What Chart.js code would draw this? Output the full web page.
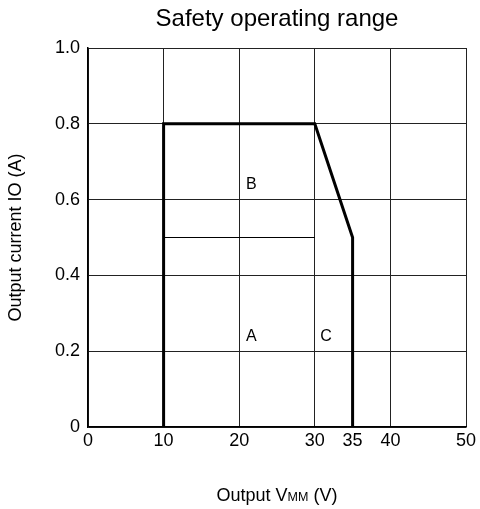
<!DOCTYPE html>
<html lang="en">
<head>
  <meta charset="UTF-8">
  <script src="https://cdn.jsdelivr.net/npm/chart.js"></script>
  <style>
    body { margin: 0; background: #fff; }
    .wrap { width: 480px; height: 509px; position: relative; }
  </style>
</head>
<body>
  <div class="wrap">
    <canvas id="soaChart"></canvas>
  </div>

  <script>
    // safe operating area boundary (V, A)
    const boundaryV = [10, 10, 30, 35, 35];
    const boundaryI = [0, 0.8, 0.8, 0.5, 0];

    // thin divider between region A and B
    const dividerV = [10, 30];
    const dividerI = [0.5, 0.5];

    const xTicks = [0, 10, 20, 30, 35, 40, 50];
    const yTicks = [0, 0.2, 0.4, 0.6, 0.8, 1.0];

    const regionLabels = ['A', 'B', 'C'];
    const regionV = [21.6, 21.6, 31.5];
    const regionI = [0.238, 0.64, 0.238];

    const FONT = '"Liberation Sans", Arial, sans-serif';

    const textPlugin = {
      id: 'textPlugin',
      afterDraw(chart) {
        const ctx = chart.ctx;
        const x = chart.scales.x, y = chart.scales.y;
        const area = chart.chartArea;
        ctx.save();
        ctx.fillStyle = '#000';
        ctx.textBaseline = 'middle';
        ctx.textAlign = 'center';

        // region letters
        ctx.font = '16px ' + FONT;
        regionLabels.forEach((t, i) => {
          ctx.fillText(t, x.getPixelForValue(regionV[i]), y.getPixelForValue(regionI[i]));
        });

        // title
        ctx.font = '24px ' + FONT;
        ctx.fillText('Safety operating range', (area.left + area.right) / 2, 19);

        // y axis title
        ctx.save();
        ctx.translate(16, (area.top + area.bottom) / 2);
        ctx.rotate(-Math.PI / 2);
        ctx.font = '18px ' + FONT;
        ctx.fillText('Output current IO (A)', 0, 0);
        ctx.restore();

        // x axis title with small "MM"
        const big = '18px ' + FONT, small = '12.5px ' + FONT;
        const parts = [['Output V', big], ['MM', small], [' (V)', big]];
        let total = 0;
        parts.forEach(p => { ctx.font = p[1]; total += ctx.measureText(p[0]).width; });
        let cx = (area.left + area.right) / 2 - total / 2;
        ctx.textAlign = 'left';
        ctx.textBaseline = 'alphabetic';
        parts.forEach(p => {
          ctx.font = p[1];
          ctx.fillText(p[0], cx, 501);
          cx += ctx.measureText(p[0]).width;
        });
        ctx.restore();
      }
    };

    new Chart(document.getElementById('soaChart'), {
      type: 'line',
      data: {
        datasets: [
          {
            data: boundaryV.map((v, i) => ({ x: v, y: boundaryI[i] })),
            borderColor: '#000',
            borderWidth: 3,
            pointRadius: 0,
            tension: 0,
            fill: false
          },
          {
            data: dividerV.map((v, i) => ({ x: v, y: dividerI[i] })),
            borderColor: '#000',
            borderWidth: 1,
            pointRadius: 0,
            fill: false
          }
        ]
      },
      options: {
        responsive: true,
        maintainAspectRatio: false,
        animation: false,
        layout: { padding: { top: 48, right: 14, left: 0, bottom: 0 } },
        plugins: {
          legend: { display: false },
          tooltip: { enabled: false },
          title: { display: false }
        },
        scales: {
          x: {
            type: 'linear',
            min: 0,
            max: 50,
            afterBuildTicks: s => { s.ticks = xTicks.map(v => ({ value: v })); },
            afterFit: s => { s.height = 82; },
            grid: {
              color: c => (c.tick && c.tick.value === 35) ? 'rgba(0,0,0,0)' : '#222',
              lineWidth: 1,
              drawTicks: false
            },
            border: { color: '#000', width: 1.5 },
            ticks: {
              color: '#000',
              padding: 3,
              font: { family: FONT, size: 18 },
              maxRotation: 0,
              autoSkip: false
            }
          },
          y: {
            type: 'linear',
            min: 0,
            max: 1,
            afterBuildTicks: s => { s.ticks = yTicks.map(v => ({ value: v })); },
            afterFit: s => { s.width = 88; },
            grid: { color: '#222', lineWidth: 1, drawTicks: false },
            border: { color: '#000', width: 1.5 },
            ticks: {
              color: '#000',
              padding: 8,
              font: { family: FONT, size: 18 },
              callback: v => v === 0 ? '0' : v.toFixed(1)
            }
          }
        }
      },
      plugins: [textPlugin]
    });
  </script>
</body>
</html>
